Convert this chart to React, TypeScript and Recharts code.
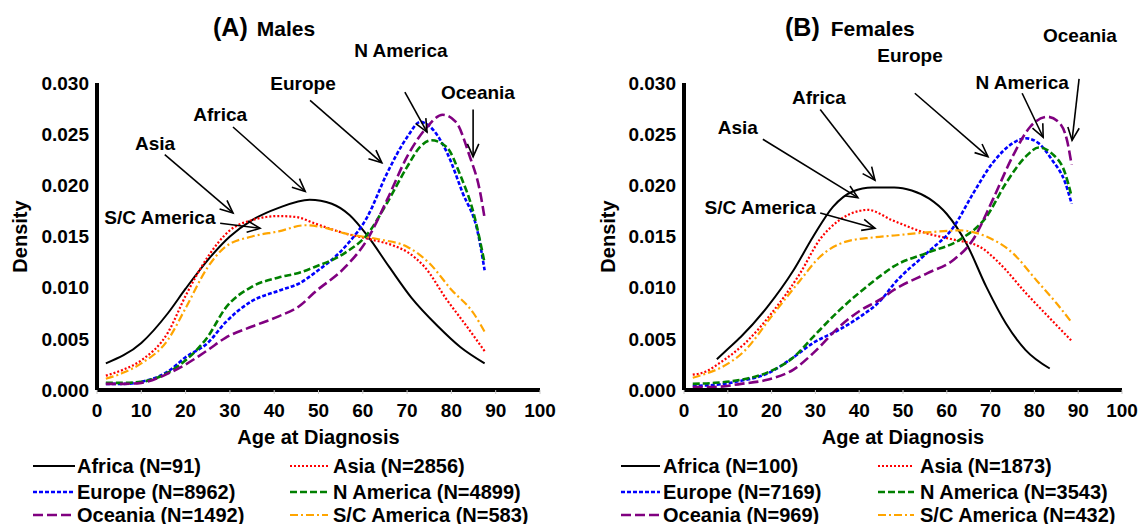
import React from 'react';
import { LineChart, Line, XAxis, YAxis, ReferenceLine, ReferenceDot, Legend } from 'recharts';

type Pt = [number, number];

const AGE_TICKS = [0, 10, 20, 30, 40, 50, 60, 70, 80, 90, 100];
const DENSITY_TICKS = [0, 0.005, 0.01, 0.015, 0.02, 0.025, 0.03];
const REGIONS = ['Africa', 'Asia', 'Europe', 'N America', 'Oceania', 'S/C America'];
const MALE_N = [91, 2856, 8962, 4899, 1492, 583];
const FEMALE_N = [100, 1873, 7169, 3543, 969, 432];
const COLORS = ['#000000', '#ff0000', '#0000ff', '#008000', '#800080', '#ffa500'];
const DASHES = ['', '2 2', '4 2', '7 3', '10 4', '8 3 2 3'];
const WIDTHS = [2, 2.2, 2.6, 2.6, 2.6, 2.2];

// Males
const maleAfrica: Pt[] = [[2, 0.0026], [10, 0.0046], [16, 0.0075], [20, 0.0099], [25, 0.0127], [30, 0.015], [35, 0.0166], [41, 0.0178], [48, 0.0186], [53, 0.0182], [57, 0.0171], [61, 0.0151], [66, 0.012], [71, 0.009], [77, 0.0062], [82, 0.0042], [87.5, 0.0026]];
const maleAsia: Pt[] = [[2, 0.0014], [6, 0.002], [10, 0.0029], [16, 0.0056], [20, 0.0092], [25, 0.013], [30, 0.0156], [35, 0.0166], [41, 0.017], [45, 0.0169], [49, 0.0163], [56, 0.0153], [62, 0.0147], [67, 0.0141], [70, 0.0135], [74, 0.012], [79, 0.0088], [83.5, 0.0062], [87.5, 0.0038]];
const maleEurope: Pt[] = [[2, 0.0006], [6, 0.0006], [10, 0.0008], [16, 0.0018], [20, 0.0032], [25, 0.0046], [29, 0.0066], [35, 0.0087], [41, 0.0097], [46, 0.0105], [49, 0.0114], [56, 0.014], [61, 0.0169], [65.5, 0.0212], [70, 0.0247], [73, 0.0262], [75, 0.0258], [79, 0.0232], [82.5, 0.0193], [86, 0.0153], [87.5, 0.0117]];
const maleNAmerica: Pt[] = [[2, 0.0007], [6, 0.0007], [10, 0.0008], [16, 0.0017], [20, 0.0029], [25, 0.0052], [29, 0.008], [35, 0.0101], [41, 0.011], [46, 0.0115], [49, 0.012], [56, 0.0134], [61, 0.0152], [65.5, 0.0183], [70, 0.0218], [73, 0.0238], [75.5, 0.0244], [79, 0.0237], [82, 0.021], [85, 0.0173], [87.5, 0.0124]];
const maleOceania: Pt[] = [[2, 0.0006], [6, 0.0006], [10, 0.0007], [16, 0.0016], [20, 0.0025], [25, 0.0039], [29, 0.0051], [35, 0.0062], [41, 0.0072], [46, 0.0083], [49, 0.0095], [56, 0.012], [61, 0.0147], [65.5, 0.0186], [70, 0.0228], [74.5, 0.0257], [78, 0.0269], [81, 0.0262], [84, 0.023], [86.5, 0.0193], [87.5, 0.0168]];
const maleSCAmerica: Pt[] = [[2, 0.0011], [6, 0.0017], [10, 0.0026], [16, 0.0049], [20, 0.008], [25, 0.012], [29, 0.014], [35, 0.015], [41, 0.0155], [47, 0.0161], [52, 0.0158], [56, 0.0153], [64, 0.0147], [70, 0.014], [75, 0.0124], [80, 0.0098], [85, 0.0075], [87.5, 0.0057]];

// Females
const femaleAfrica: Pt[] = [[7.5, 0.003], [10, 0.004], [13, 0.0052], [19, 0.0081], [25, 0.0117], [29.5, 0.015], [34, 0.0179], [38.5, 0.0194], [43, 0.0198], [48, 0.0198], [52, 0.0195], [56, 0.0187], [60, 0.0172], [64.5, 0.0143], [69, 0.0101], [73.5, 0.0065], [78, 0.0039], [83.5, 0.0021]];
const femaleAsia: Pt[] = [[2, 0.0015], [5, 0.0018], [8, 0.0026], [14, 0.0046], [20, 0.0075], [26.5, 0.0114], [31, 0.0147], [35.5, 0.0166], [40, 0.0175], [42, 0.0176], [47.5, 0.0166], [55.5, 0.0153], [61.5, 0.0147], [67.5, 0.014], [72, 0.0124], [78, 0.0095], [84, 0.0068], [88.5, 0.0048]];
const femaleEurope: Pt[] = [[2, 0.0004], [7, 0.0005], [13, 0.0009], [19, 0.0016], [25, 0.0032], [29.5, 0.0046], [35.5, 0.0059], [40, 0.0071], [45, 0.0088], [48, 0.0104], [55.5, 0.0134], [61.5, 0.0159], [66, 0.0192], [70.5, 0.0222], [75, 0.0241], [78, 0.0246], [81, 0.0241], [84, 0.0225], [87, 0.0203], [88.5, 0.0182]];
const femaleNAmerica: Pt[] = [[2, 0.0006], [7, 0.0007], [13, 0.001], [19, 0.0017], [25, 0.0032], [29.5, 0.0052], [35.5, 0.0078], [40, 0.0095], [45, 0.0112], [48, 0.0121], [55.5, 0.0134], [63, 0.0147], [69, 0.0169], [73.5, 0.0202], [78, 0.0228], [81, 0.0237], [84, 0.0231], [87, 0.0212], [88.5, 0.0189]];
const femaleOceania: Pt[] = [[2, 0.0003], [7, 0.0003], [13, 0.0006], [19, 0.001], [25, 0.002], [29.5, 0.0036], [35.5, 0.0062], [40, 0.0077], [45, 0.0089], [48, 0.0098], [55.5, 0.0114], [61.5, 0.0127], [66, 0.0147], [70.5, 0.0186], [75, 0.0228], [79, 0.0257], [83, 0.0267], [85.5, 0.0262], [87.5, 0.0243], [88.5, 0.022]];
const femaleSCAmerica: Pt[] = [[2, 0.0012], [5, 0.0016], [8, 0.0021], [14, 0.0039], [20, 0.0072], [26.5, 0.0107], [31, 0.013], [37, 0.0145], [43, 0.0149], [48, 0.0151], [55.5, 0.0154], [63, 0.0156], [69, 0.015], [75, 0.0134], [80.5, 0.0107], [85, 0.0085], [88.5, 0.0066]];

const MALE_SERIES = [maleAfrica, maleAsia, maleEurope, maleNAmerica, maleOceania, maleSCAmerica];
const FEMALE_SERIES = [femaleAfrica, femaleAsia, femaleEurope, femaleNAmerica, femaleOceania, femaleSCAmerica];

// Annotations: label, text position (age, density), arrow from -> to (age, density)
type Ann = { label: string; tx: number; ty: number; x1: number; y1: number; x2: number; y2: number };
const MALE_ANNOTATIONS: Ann[] = [
  { label: 'Asia', tx: 13.1, ty: 0.0241, x1: 15.3, y1: 0.023, x2: 30.7, y2: 0.0173 },
  { label: 'Africa', tx: 27.8, ty: 0.027, x1: 30.7, y1: 0.0257, x2: 47.0, y2: 0.0194 },
  { label: 'Europe', tx: 46.5, ty: 0.03, x1: 48.1, y1: 0.0283, x2: 64.3, y2: 0.0222 },
  { label: 'N America', tx: 68.6, ty: 0.0332, x1: 69.5, y1: 0.0291, x2: 74.5, y2: 0.0252 },
  { label: 'Oceania', tx: 86.0, ty: 0.0291, x1: 84.9, y1: 0.0274, x2: 84.9, y2: 0.0228 },
  { label: 'S/C America', tx: 14.2, ty: 0.0169, x1: 27.8, y1: 0.0163, x2: 36.8, y2: 0.0158 },
];
const FEMALE_ANNOTATIONS: Ann[] = [
  { label: 'Asia', tx: 12.3, ty: 0.0257, x1: 18.0, y1: 0.0245, x2: 39.7, y2: 0.0188 },
  { label: 'Africa', tx: 30.8, ty: 0.0286, x1: 31.1, y1: 0.0274, x2: 43.6, y2: 0.0205 },
  { label: 'S/C America', tx: 17.4, ty: 0.0179, x1: 31.1, y1: 0.0173, x2: 43.6, y2: 0.0158 },
  { label: 'Europe', tx: 51.6, ty: 0.0327, x1: 52.7, y1: 0.029, x2: 69.4, y2: 0.0228 },
  { label: 'N America', tx: 77.2, ty: 0.0301, x1: 77.2, y1: 0.029, x2: 82.0, y2: 0.0247 },
  { label: 'Oceania', tx: 90.4, ty: 0.0347, x1: 90.2, y1: 0.0304, x2: 88.6, y2: 0.0244 },
];

const FONT = "'Liberation Sans', Arial, sans-serif";

const Arrow = (props: any) => {
  const { x1, y1, x2, y2 } = props;
  if ([x1, y1, x2, y2].some((v) => typeof v !== 'number' || isNaN(v))) return null;
  const ang = Math.atan2(y2 - y1, x2 - x1);
  const L = 14;
  const a = 0.42;
  const p1 = [x2 - L * Math.cos(ang - a), y2 - L * Math.sin(ang - a)];
  const p2 = [x2 - L * Math.cos(ang + a), y2 - L * Math.sin(ang + a)];
  return (
    <g>
      <line x1={x1} y1={y1} x2={x2} y2={y2} stroke="#000" strokeWidth={1.6} />
      <polyline points={`${p1[0]},${p1[1]} ${x2},${y2} ${p2[0]},${p2[1]}`} fill="none" stroke="#000" strokeWidth={1.6} />
    </g>
  );
};

const AnnText = (label: string) => (props: any) => {
  const { cx, cy } = props;
  if (typeof cx !== 'number' || typeof cy !== 'number') return null;
  return (
    <text x={cx} y={cy + 7} textAnchor="middle" fontFamily={FONT} fontWeight="bold" fontSize={19} fill="#000">
      {label}
    </text>
  );
};

type PanelProps = {
  letter: string;
  word: string;
  titleX: number;
  titleGap: number;
  series: Pt[][];
  ns: number[];
  annotations: Ann[];
  yAxisWidth: number;
  rightMargin: number;
  densityX: number;
  legendCols: { l1: number; l2: number; t: number }[];
};

const W = 573;
const H = 524;

function Panel(p: PanelProps) {
  const legendContent = () => (
    <svg width={W} height={74} style={{ display: 'block' }}>
      {REGIONS.map((r, i) => {
        const col = p.legendCols[i % 2];
        const cy = [14, 40, 63][Math.floor(i / 2)];
        return (
          <g key={r}>
            <line x1={col.l1} x2={col.l2} y1={cy} y2={cy} stroke={COLORS[i]} strokeWidth={WIDTHS[i]} strokeDasharray={DASHES[i] || undefined} />
            <text x={col.t} y={cy + 7} fontFamily={FONT} fontWeight="bold" fontSize={20} fill="#000">
              {`${r} (N=${p.ns[i]})`}
            </text>
          </g>
        );
      })}
    </svg>
  );

  return (
    <div style={{ position: 'relative', width: W, height: H }}>
      <LineChart width={W} height={H} margin={{ top: 83, right: p.rightMargin, left: 0, bottom: 74 }}>
        <XAxis
          dataKey="x"
          type="number"
          domain={[0, 100]}
          ticks={AGE_TICKS}
          interval={0}
          height={60}
          axisLine={{ stroke: '#000', strokeWidth: 4 }}
          tickLine={{ stroke: '#c8c8c8', strokeWidth: 1 }}
          tickSize={4}
          tickMargin={10}
          tick={{ fill: '#000', fontFamily: FONT, fontWeight: 'bold', fontSize: 19 }}
          label={(lp: any) => {
            const vb = lp.viewBox || {};
            return (
              <text x={vb.x + vb.width / 2} y={vb.y + 54} textAnchor="middle" fontFamily={FONT} fontWeight="bold" fontSize={20} fill="#000">
                Age at Diagnosis
              </text>
            );
          }}
        />
        <YAxis
          type="number"
          domain={[0, 0.03]}
          allowDataOverflow
          ticks={DENSITY_TICKS}
          interval={0}
          width={p.yAxisWidth}
          axisLine={{ stroke: '#000', strokeWidth: 4 }}
          tickLine={false}
          tickSize={3}
          tickMargin={5}
          tickFormatter={(v: number) => v.toFixed(3)}
          tick={{ fill: '#000', fontFamily: FONT, fontWeight: 'bold', fontSize: 19 }}
          label={(lp: any) => {
            const vb = lp.viewBox || {};
            const cx = vb.x + p.densityX;
            const cy = vb.y + vb.height / 2;
            return (
              <text x={cx} y={cy} transform={`rotate(-90, ${cx}, ${cy})`} textAnchor="middle" dominantBaseline="central" fontFamily={FONT} fontWeight="bold" fontSize={20} fill="#000">
                Density
              </text>
            );
          }}
        />
        {p.series.map((s, i) => (
          <Line
            key={REGIONS[i]}
            data={s.map(([x, y]) => ({ x, y }))}
            dataKey="y"
            type="monotone"
            stroke={COLORS[i]}
            strokeWidth={WIDTHS[i]}
            strokeDasharray={DASHES[i] || undefined}
            dot={false}
            activeDot={false}
            isAnimationActive={false}
          />
        ))}
        {p.annotations.map((a) => (
          <ReferenceLine
            key={`arrow-${a.label}`}
            segment={[{ x: a.x1, y: a.y1 }, { x: a.x2, y: a.y2 }]}
            ifOverflow="visible"
            shape={Arrow}
          />
        ))}
        {p.annotations.map((a) => (
          <ReferenceDot key={`text-${a.label}`} x={a.tx} y={a.ty} r={0} ifOverflow="visible" shape={AnnText(a.label)} />
        ))}
        <Legend
          layout="vertical"
          align="center"
          verticalAlign="middle"
          content={legendContent}
          wrapperStyle={{ position: 'absolute', left: 0, top: 452, width: W, height: 74, margin: 0 }}
        />
      </LineChart>
      <svg width={W} height={50} style={{ position: 'absolute', left: 0, top: 0, pointerEvents: 'none' }}>
        <text x={p.titleX} y={36} fontFamily={FONT} fontWeight="bold" fontSize={25} fill="#000">
          {p.letter}
          <tspan dx={p.titleGap} fontSize={21}>{p.word}</tspan>
        </text>
      </svg>
    </div>
  );
}

export default function App() {
  return (
    <div style={{ position: 'absolute', left: 0, top: 0, width: 1146, height: 524, background: '#fff', display: 'flex' }}>
      <Panel
        letter="(A)"
        word="Males"
        titleX={213}
        titleGap={9}
        series={MALE_SERIES}
        ns={MALE_N}
        annotations={MALE_ANNOTATIONS}
        yAxisWidth={97}
        rightMargin={33}
        densityX={20}
        legendCols={[{ l1: 33, l2: 75, t: 77 }, { l1: 290, l2: 328, t: 333 }]}
      />
      <Panel
        letter="(B)"
        word="Females"
        titleX={212}
        titleGap={11}
        series={FEMALE_SERIES}
        ns={FEMALE_N}
        annotations={FEMALE_ANNOTATIONS}
        yAxisWidth={111}
        rightMargin={24}
        densityX={35}
        legendCols={[{ l1: 48, l2: 87, t: 90 }, { l1: 305, l2: 341, t: 347 }]}
      />
    </div>
  );
}
